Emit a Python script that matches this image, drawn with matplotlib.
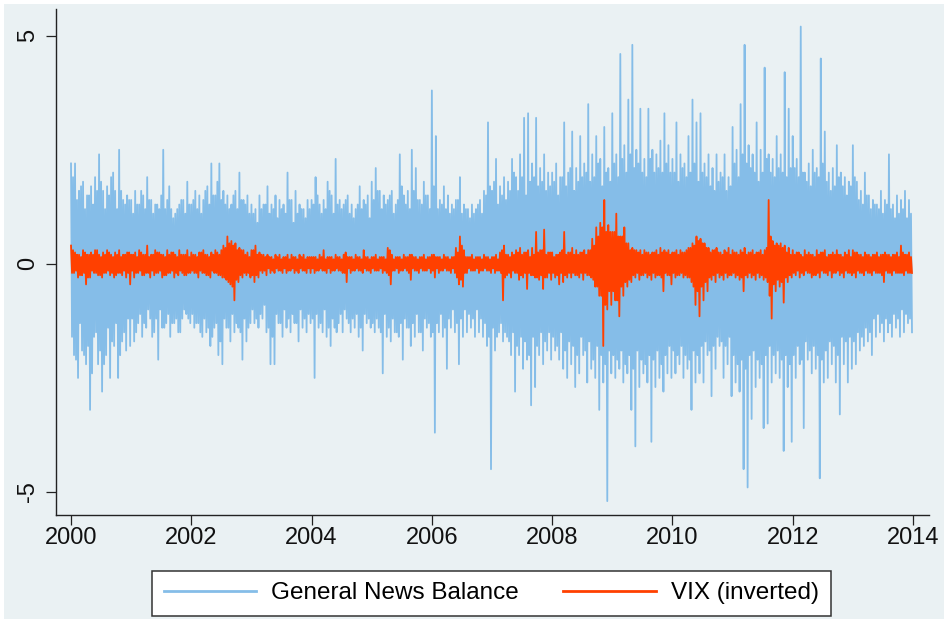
import numpy as np
import matplotlib
matplotlib.use("Agg")
import matplotlib.pyplot as plt
from matplotlib.patches import Rectangle

plt.rcParams['font.family'] = ['Liberation Sans', 'DejaVu Sans']

# ---- data (60 readings per year) ----
start_year = 2000
per_year = 60

news_2000 = [2.2, -1.6, 1.9, -2.0, 2.2, -2.1, 1.4, -2.5, 1.6, -1.3, 1.7, -1.9, 1.8, -2.0, 1.2, -2.2, 1.5, -1.8, 1.5, -3.2, 1.7, -2.4, 1.3, -1.6, 1.9, -1.5, 1.6, -2.2, 2.4, -1.9, 1.8, -2.8, 1.6, -2.2, 1.2, -2.0, 1.7, -1.4, 1.5, -2.5, 1.9, -1.7, 2.0, -1.8, 1.6, -1.3, 1.2, -2.5, 2.5, -2.0, 1.6, -1.7, 1.4, -1.5, 1.3, -1.9, 1.5, -1.2, 1.4, -1.8]
news_2001 = [1.4, -1.2, 1.1, -1.7, 1.6, -1.5, 1.3, -1.3, 1.3, -1.1, 1.6, -1.6, 1.5, -1.3, 1.2, -1.4, 1.9, -1.0, 1.4, -1.2, 1.4, -1.6, 1.1, -1.5, 1.3, -1.2, 1.3, -2.1, 1.2, -1.0, 1.5, -1.4, 2.5, -1.4, 1.2, -1.3, 1.4, -1.1, 1.7, -1.6, 1.2, -1.3, 1.0, -1.3, 1.1, -1.2, 1.2, -1.5, 1.3, -1.5, 1.4, -1.2, 1.4, -1.0, 1.1, -1.1, 1.8, -1.2, 1.3, -1.3]
news_2002 = [1.3, -1.1, 1.4, -1.4, 1.6, -1.3, 1.2, -1.3, 1.5, -1.5, 1.1, -1.6, 1.4, -1.2, 1.6, -1.5, 1.7, -1.4, 1.3, -1.8, 2.2, -1.6, 1.5, -1.4, 1.5, -1.3, 1.8, -2.0, 2.2, -1.7, 1.4, -2.2, 1.6, -1.2, 1.3, -1.4, 1.5, -1.4, 1.2, -1.7, 1.3, -1.1, 1.5, -1.5, 1.6, -1.3, 1.2, -1.4, 2.0, -1.5, 1.4, -2.1, 1.4, -1.2, 1.3, -1.7, 1.5, -1.4, 1.1, -1.3]
news_2003 = [1.3, -1.0, 1.1, -1.3, 1.2, -1.2, 0.9, -1.4, 1.5, -1.1, 1.2, -1.2, 1.3, -0.9, 1.3, -1.5, 1.7, -1.4, 1.1, -2.2, 1.3, -1.6, 1.2, -2.2, 1.5, -1.1, 1.0, -1.3, 1.4, -1.3, 1.2, -1.6, 1.3, -1.0, 1.1, -1.4, 2.0, -1.2, 1.4, -1.5, 1.4, -1.1, 0.9, -1.3, 1.6, -1.3, 1.1, -1.7, 1.3, -1.0, 1.2, -1.4, 1.2, -1.2, 1.0, -1.5, 1.4, -1.1, 1.2, -1.3]
news_2004 = [1.4, -1.2, 1.3, -2.5, 1.9, -1.1, 1.5, -1.4, 1.3, -1.3, 1.1, -1.5, 1.4, -1.0, 1.2, -1.6, 1.8, -1.4, 1.6, -1.8, 1.5, -1.2, 1.1, -1.4, 2.3, -1.5, 1.3, -1.3, 1.4, -1.1, 1.2, -1.5, 1.3, -1.0, 1.4, -1.2, 1.5, -1.3, 1.1, -1.5, 1.3, -1.2, 1.0, -1.4, 1.2, -1.1, 1.3, -1.6, 1.7, -1.4, 1.2, -1.9, 1.4, -1.1, 1.3, -1.3, 1.5, -1.2, 1.0, -1.4]
news_2005 = [1.8, -1.3, 1.4, -1.5, 2.1, -1.2, 1.6, -1.4, 1.6, -1.5, 1.2, -2.4, 1.5, -1.1, 1.3, -1.6, 1.4, -1.4, 1.5, -1.7, 1.6, -1.2, 1.1, -1.5, 1.3, -1.5, 1.4, -1.6, 2.4, -1.3, 1.7, -2.1, 1.5, -1.2, 1.3, -1.4, 1.6, -1.4, 1.2, -1.8, 2.5, -1.3, 1.6, -1.6, 2.1, -1.1, 1.4, -1.5, 1.4, -1.5, 1.3, -1.9, 1.8, -1.2, 1.5, -1.4, 1.5, -1.3, 1.2, -1.6]
news_2006 = [3.8, -1.5, 1.7, -3.7, 2.8, -1.3, 1.2, -1.5, 1.4, -1.1, 1.3, -1.6, 1.7, -1.4, 1.2, -2.3, 1.5, -1.2, 1.1, -1.4, 1.3, -1.0, 1.2, -1.5, 1.4, -1.3, 1.4, -2.2, 1.9, -1.2, 1.1, -1.6, 1.3, -1.0, 1.2, -1.5, 1.2, -1.1, 1.0, -1.4, 1.3, -1.2, 1.1, -1.6, 1.2, -1.0, 1.3, -1.5, 1.4, -1.2, 1.1, -1.6, 1.6, -1.3, 1.5, -1.8, 3.1, -1.6, 1.7, -4.5]
news_2007 = [1.6, -1.4, 1.8, -1.9, 2.3, -1.6, 1.3, -1.5, 1.7, -1.3, 1.5, -1.7, 1.9, -1.5, 1.4, -1.6, 1.8, -1.7, 1.6, -2.0, 2.3, -1.5, 2.0, -2.8, 1.9, -1.8, 1.6, -2.0, 2.4, -1.6, 1.9, -2.3, 3.2, -1.7, 1.5, -2.1, 3.3, -2.0, 1.8, -3.1, 2.2, -1.6, 1.9, -2.7, 3.2, -1.8, 1.7, -2.0, 2.1, -1.5, 1.8, -2.2, 2.4, -1.7, 1.6, -1.9, 2.0, -1.5, 1.7, -2.1]
news_2008 = [2.0, -1.6, 1.8, -1.9, 2.2, -1.8, 1.5, -2.1, 1.9, -1.5, 1.9, -2.3, 3.1, -1.9, 1.7, -2.5, 2.0, -1.7, 2.1, -2.2, 2.9, -1.8, 1.6, -2.7, 2.1, -2.0, 1.8, -2.4, 2.8, -1.6, 1.9, -2.0, 2.2, -1.9, 2.0, -2.6, 3.5, -1.7, 1.8, -2.3, 2.4, -2.1, 1.9, -2.5, 2.8, -1.8, 2.2, -3.2, 2.3, -2.0, 1.7, -2.6, 3.0, -2.2, 2.0, -5.2, 2.1, -1.9, 1.8, -2.4]
news_2009 = [3.3, -2.0, 2.2, -2.5, 2.4, -2.1, 1.9, -2.3, 4.6, -1.9, 2.3, -2.6, 2.6, -2.2, 2.0, -2.4, 3.6, -2.0, 2.4, -3.2, 4.8, -2.3, 2.1, -4.0, 2.5, -1.9, 2.2, -2.7, 3.4, -2.1, 2.0, -2.4, 2.3, -2.2, 1.9, -2.6, 3.4, -2.0, 2.3, -3.9, 2.5, -2.1, 2.0, -2.7, 2.4, -1.9, 2.1, -2.5, 2.7, -2.2, 2.0, -2.8, 3.3, -2.0, 2.2, -2.4, 2.6, -1.8, 2.0, -2.5]
news_2010 = [2.3, -1.9, 2.0, -2.4, 3.1, -2.0, 1.8, -2.2, 2.4, -1.8, 2.1, -2.5, 2.2, -2.0, 1.9, -2.3, 2.8, -2.1, 2.0, -3.2, 3.6, -1.9, 2.2, -2.6, 3.1, -2.0, 1.8, -2.4, 3.3, -1.8, 2.0, -2.6, 2.2, -1.7, 1.9, -2.0, 2.4, -1.9, 1.7, -2.9, 2.1, -1.8, 1.6, -2.3, 2.4, -1.6, 1.8, -1.8, 2.0, -1.7, 1.9, -2.5, 2.4, -1.8, 1.6, -2.2, 1.9, -1.6, 1.7, -2.9]
news_2011 = [3.0, -2.0, 2.2, -2.6, 2.5, -2.2, 1.9, -2.8, 3.5, -2.1, 2.4, -4.5, 4.8, -2.3, 2.2, -4.9, 2.6, -2.0, 2.1, -3.4, 2.4, -1.9, 2.0, -2.7, 3.1, -2.1, 1.8, -2.5, 2.5, -2.2, 2.0, -3.6, 4.3, -2.0, 2.3, -3.5, 2.4, -1.8, 2.0, -2.6, 2.3, -2.0, 1.9, -2.4, 2.8, -1.9, 2.1, -2.5, 2.4, -2.1, 2.0, -4.1, 4.2, -2.0, 1.9, -2.7, 3.4, -2.2, 2.1, -3.9]
news_2012 = [2.8, -2.0, 2.1, -2.5, 2.3, -1.8, 1.9, -2.2, 5.2, -2.1, 2.0, -3.6, 2.0, -1.7, 1.8, -2.1, 2.2, -1.9, 1.7, -2.4, 2.5, -1.8, 2.0, -2.3, 2.1, -2.0, 1.9, -4.7, 4.5, -2.1, 2.2, -2.6, 2.9, -1.9, 1.8, -2.5, 2.0, -1.7, 1.6, -2.2, 2.1, -1.8, 1.7, -2.6, 2.6, -2.0, 1.9, -3.3, 2.0, -1.6, 1.7, -2.2, 1.9, -1.7, 1.5, -2.6, 1.8, -1.6, 1.7, -2.3]
news_2013 = [2.6, -1.7, 1.9, -2.2, 1.8, -1.5, 1.4, -1.9, 1.6, -1.6, 1.3, -1.8, 2.0, -1.4, 1.5, -1.7, 1.5, -1.5, 1.2, -2.0, 1.4, -1.2, 1.3, -1.6, 1.3, -1.1, 1.2, -1.5, 1.6, -1.3, 1.1, -1.7, 1.4, -1.2, 1.3, -1.5, 2.4, -1.3, 1.2, -1.6, 1.3, -1.1, 1.0, -1.4, 1.5, -1.2, 1.1, -1.6, 1.4, -1.0, 1.2, -1.5, 1.6, -1.1, 1.0, -1.3, 1.4, -1.2, 1.1, -1.5]

vix_2000 = [0.4, -0.2, 0.3, -0.2, 0.25, -0.15, 0.2, -0.3, 0.2, -0.25, 0.15, -0.25, 0.3, -0.2, 0.25, -0.45, 0.2, -0.3, 0.2, -0.3, 0.25, -0.15, 0.2, -0.2, 0.3, -0.2, 0.3, -0.25, 0.2, -0.25, 0.15, -0.3, 0.25, -0.2, 0.2, -0.2, 0.3, -0.15, 0.25, -0.25, 0.2, -0.2, 0.15, -0.3, 0.25, -0.25, 0.2, -0.2, 0.3, -0.2, 0.15, -0.25, 0.2, -0.15, 0.2, -0.3, 0.25, -0.2, 0.25, -0.45]
vix_2001 = [0.2, -0.15, 0.2, -0.3, 0.25, -0.2, 0.15, -0.2, 0.3, -0.15, 0.25, -0.25, 0.2, -0.25, 0.2, -0.2, 0.4, -0.2, 0.15, -0.3, 0.2, -0.15, 0.2, -0.25, 0.3, -0.2, 0.25, -0.2, 0.25, -0.15, 0.2, -0.3, 0.2, -0.25, 0.15, -0.25, 0.3, -0.2, 0.2, -0.2, 0.25, -0.15, 0.25, -0.3, 0.2, -0.2, 0.15, -0.25, 0.3, -0.15, 0.2, -0.2, 0.2, -0.25, 0.2, -0.25, 0.3, -0.2, 0.15, -0.2]
vix_2002 = [0.25, -0.15, 0.2, -0.2, 0.2, -0.2, 0.15, -0.3, 0.25, -0.15, 0.25, -0.2, 0.3, -0.2, 0.2, -0.25, 0.2, -0.25, 0.15, -0.3, 0.25, -0.15, 0.2, -0.2, 0.3, -0.2, 0.25, -0.25, 0.2, -0.25, 0.3, -0.3, 0.4, -0.3, 0.35, -0.35, 0.6, -0.4, 0.45, -0.45, 0.5, -0.5, 0.4, -0.8, 0.45, -0.35, 0.3, -0.4, 0.35, -0.25, 0.3, -0.3, 0.3, -0.2, 0.2, -0.25, 0.25, -0.2, 0.15, -0.3]
vix_2003 = [0.3, -0.25, 0.3, -0.4, 0.4, -0.25, 0.2, -0.3, 0.25, -0.15, 0.2, -0.2, 0.2, -0.15, 0.15, -0.25, 0.2, -0.1, 0.15, -0.2, 0.15, -0.15, 0.1, -0.2, 0.2, -0.1, 0.15, -0.15, 0.2, -0.15, 0.1, -0.2, 0.15, -0.1, 0.15, -0.2, 0.2, -0.15, 0.1, -0.15, 0.2, -0.1, 0.15, -0.2, 0.15, -0.15, 0.1, -0.2, 0.2, -0.1, 0.15, -0.15, 0.2, -0.15, 0.1, -0.2, 0.15, -0.1, 0.15, -0.2]
vix_2004 = [0.15, -0.1, 0.15, -0.2, 0.15, -0.15, 0.1, -0.15, 0.2, -0.1, 0.15, -0.15, 0.3, -0.15, 0.1, -0.2, 0.15, -0.1, 0.15, -0.2, 0.15, -0.15, 0.1, -0.15, 0.2, -0.1, 0.15, -0.15, 0.15, -0.15, 0.1, -0.2, 0.2, -0.2, 0.25, -0.4, 0.15, -0.1, 0.15, -0.2, 0.15, -0.15, 0.1, -0.15, 0.2, -0.1, 0.15, -0.15, 0.15, -0.15, 0.1, -0.2, 0.3, -0.1, 0.15, -0.15, 0.15, -0.15, 0.1, -0.2]
vix_2005 = [0.15, -0.1, 0.15, -0.15, 0.2, -0.15, 0.1, -0.15, 0.15, -0.1, 0.15, -0.2, 0.15, -0.15, 0.1, -0.2, 0.35, -0.25, 0.3, -0.45, 0.2, -0.15, 0.1, -0.15, 0.15, -0.1, 0.15, -0.2, 0.15, -0.15, 0.1, -0.15, 0.2, -0.1, 0.15, -0.15, 0.15, -0.2, 0.2, -0.35, 0.2, -0.1, 0.15, -0.15, 0.15, -0.15, 0.1, -0.2, 0.15, -0.1, 0.15, -0.15, 0.2, -0.15, 0.1, -0.15, 0.15, -0.1, 0.15, -0.2]
vix_2006 = [0.2, -0.15, 0.2, -0.3, 0.15, -0.1, 0.15, -0.2, 0.15, -0.15, 0.1, -0.15, 0.2, -0.1, 0.15, -0.15, 0.15, -0.15, 0.1, -0.2, 0.15, -0.1, 0.15, -0.2, 0.35, -0.3, 0.25, -0.45, 0.6, -0.35, 0.4, -0.5, 0.3, -0.2, 0.15, -0.2, 0.15, -0.1, 0.15, -0.15, 0.2, -0.15, 0.1, -0.15, 0.15, -0.1, 0.15, -0.2, 0.15, -0.15, 0.1, -0.15, 0.2, -0.1, 0.15, -0.15, 0.15, -0.15, 0.1, -0.2]
vix_2007 = [0.15, -0.1, 0.15, -0.2, 0.2, -0.15, 0.1, -0.15, 0.25, -0.2, 0.3, -0.8, 0.4, -0.3, 0.2, -0.25, 0.2, -0.2, 0.15, -0.3, 0.25, -0.15, 0.2, -0.2, 0.3, -0.2, 0.25, -0.35, 0.35, -0.25, 0.2, -0.3, 0.25, -0.2, 0.25, -0.55, 0.3, -0.2, 0.15, -0.25, 0.35, -0.25, 0.2, -0.3, 0.7, -0.3, 0.25, -0.35, 0.3, -0.25, 0.3, -0.55, 0.75, -0.3, 0.2, -0.3, 0.25, -0.2, 0.25, -0.35]
vix_2008 = [0.25, -0.2, 0.15, -0.3, 0.2, -0.25, 0.2, -0.45, 0.25, -0.2, 0.3, -0.4, 0.7, -0.25, 0.2, -0.3, 0.25, -0.2, 0.25, -0.3, 0.35, -0.2, 0.2, -0.25, 0.3, -0.25, 0.2, -0.3, 0.25, -0.2, 0.25, -0.35, 0.3, -0.2, 0.2, -0.25, 0.3, -0.25, 0.3, -0.3, 0.55, -0.35, 0.4, -0.5, 0.8, -0.5, 0.6, -0.7, 0.9, -0.7, 0.8, -1.8, 1.4, -0.9, 0.7, -1.0, 0.85, -0.6, 0.7, -0.9]
vix_2009 = [0.7, -0.6, 0.7, -0.8, 1.1, -0.8, 0.6, -1.15, 0.6, -0.5, 0.6, -0.7, 0.8, -0.4, 0.45, -0.5, 0.45, -0.35, 0.3, -0.4, 0.35, -0.25, 0.3, -0.3, 0.3, -0.2, 0.25, -0.35, 0.3, -0.25, 0.2, -0.25, 0.3, -0.2, 0.25, -0.3, 0.25, -0.25, 0.2, -0.35, 0.25, -0.2, 0.25, -0.3, 0.3, -0.25, 0.2, -0.25, 0.35, -0.3, 0.25, -0.6, 0.3, -0.2, 0.25, -0.25, 0.3, -0.25, 0.2, -0.45]
vix_2010 = [0.25, -0.2, 0.25, -0.3, 0.3, -0.25, 0.2, -0.25, 0.3, -0.2, 0.25, -0.3, 0.25, -0.25, 0.3, -0.3, 0.35, -0.3, 0.35, -0.4, 0.45, -0.5, 0.4, -0.9, 0.6, -0.6, 0.5, -1.15, 0.55, -0.5, 0.45, -0.8, 0.45, -0.4, 0.35, -0.6, 0.35, -0.3, 0.25, -0.35, 0.3, -0.25, 0.3, -0.4, 0.35, -0.2, 0.25, -0.3, 0.25, -0.25, 0.2, -0.35, 0.3, -0.2, 0.25, -0.3, 0.35, -0.25, 0.2, -0.25]
vix_2011 = [0.3, -0.2, 0.25, -0.3, 0.25, -0.25, 0.2, -0.35, 0.3, -0.3, 0.25, -0.6, 0.35, -0.25, 0.2, -0.3, 0.25, -0.2, 0.25, -0.3, 0.3, -0.25, 0.2, -0.35, 0.25, -0.2, 0.25, -0.3, 0.3, -0.25, 0.2, -0.35, 0.3, -0.3, 0.35, -0.4, 1.4, -0.7, 0.6, -1.2, 0.5, -0.45, 0.4, -0.6, 0.45, -0.35, 0.4, -0.5, 0.45, -0.4, 0.35, -0.85, 0.4, -0.3, 0.25, -0.4, 0.35, -0.25, 0.2, -0.3]
vix_2012 = [0.3, -0.2, 0.2, -0.25, 0.25, -0.15, 0.25, -0.3, 0.2, -0.2, 0.15, -0.25, 0.3, -0.15, 0.2, -0.2, 0.25, -0.2, 0.2, -0.3, 0.2, -0.25, 0.15, -0.25, 0.3, -0.2, 0.2, -0.3, 0.25, -0.15, 0.25, -0.2, 0.3, -0.2, 0.15, -0.25, 0.2, -0.15, 0.2, -0.3, 0.25, -0.2, 0.2, -0.2, 0.3, -0.15, 0.2, -0.25, 0.2, -0.2, 0.15, -0.3, 0.25, -0.15, 0.2, -0.2, 0.3, -0.2, 0.15, -0.25]
vix_2013 = [0.3, -0.2, 0.25, -0.3, 0.25, -0.15, 0.2, -0.2, 0.2, -0.2, 0.15, -0.25, 0.25, -0.15, 0.2, -0.2, 0.2, -0.2, 0.15, -0.25, 0.2, -0.15, 0.2, -0.2, 0.25, -0.2, 0.15, -0.2, 0.2, -0.25, 0.2, -0.4, 0.25, -0.15, 0.2, -0.2, 0.2, -0.2, 0.15, -0.25, 0.2, -0.15, 0.2, -0.2, 0.25, -0.2, 0.15, -0.2, 0.4, -0.2, 0.25, -0.25, 0.2, -0.15, 0.2, -0.2, 0.25, -0.2, 0.15, -0.2]

news = (news_2000 + news_2001 + news_2002 + news_2003 + news_2004 + news_2005 + news_2006
        + news_2007 + news_2008 + news_2009 + news_2010 + news_2011 + news_2012 + news_2013)
vix = (vix_2000 + vix_2001 + vix_2002 + vix_2003 + vix_2004 + vix_2005 + vix_2006
       + vix_2007 + vix_2008 + vix_2009 + vix_2010 + vix_2011 + vix_2012 + vix_2013)

x_ticks = [2000, 2002, 2004, 2006, 2008, 2010, 2012, 2014]
y_ticks = [-5, 0, 5]
series_labels = ["General News Balance", "VIX (inverted)"]

# time axes (one reading every 1/60 year)
t_news = start_year + np.arange(len(news)) / per_year
t_vix = start_year + np.arange(len(vix)) / per_year

BG = "#eaf1f3"
BLUE = "#85bde8"
RED = "#ff4000"
W, H = 944, 619

fig = plt.figure(figsize=(W / 100, H / 100), dpi=100, facecolor="white")
fig.patches.append(Rectangle((4 / W, 0), 1 - 4 / W, 1 - 4 / H, transform=fig.transFigure,
                             facecolor=BG, edgecolor="none", zorder=-10))

ax = fig.add_axes([55.5 / W, 1 - 515 / H, (929 - 55.5) / W, (515 - 9) / H])
ax.set_facecolor(BG)
ax.plot(t_news, news, color=BLUE, lw=1.3, label=series_labels[0])
ax.plot(t_vix, vix, color=RED, lw=1.3, label=series_labels[1])

ax.set_xlim(1999.742, 2014.266)
ax.set_ylim(-5.504, 5.585)
ax.set_xticks(x_ticks)
ax.set_yticks(y_ticks)
ax.set_yticklabels([str(v) for v in y_ticks], rotation=90, va="center")
for s in ["top", "right"]:
    ax.spines[s].set_visible(False)
for s in ["left", "bottom"]:
    ax.spines[s].set_linewidth(1.0)
    ax.spines[s].set_color("#222222")
ax.tick_params(axis="both", direction="out", length=7, width=0.9, color="#222222",
               labelsize=17, labelcolor="#111111")
ax.tick_params(axis="x", pad=2)
ax.tick_params(axis="y", pad=5)

leg = ax.legend(loc="lower center", bbox_to_anchor=(491.3 / W, 3 / H),
                bbox_transform=fig.transFigure, ncol=2, fontsize=17.5, frameon=True,
                fancybox=False, handlelength=3.8, handletextpad=0.63, columnspacing=1.81,
                borderpad=0.48, borderaxespad=0)
leg.get_frame().set_edgecolor("#333333")
leg.get_frame().set_linewidth(1.1)
leg.get_frame().set_facecolor("white")
leg.get_frame().set_alpha(1)
for line in leg.get_lines():
    line.set_linewidth(2.0)

fig.savefig("out.png", dpi=100, facecolor=fig.get_facecolor())
